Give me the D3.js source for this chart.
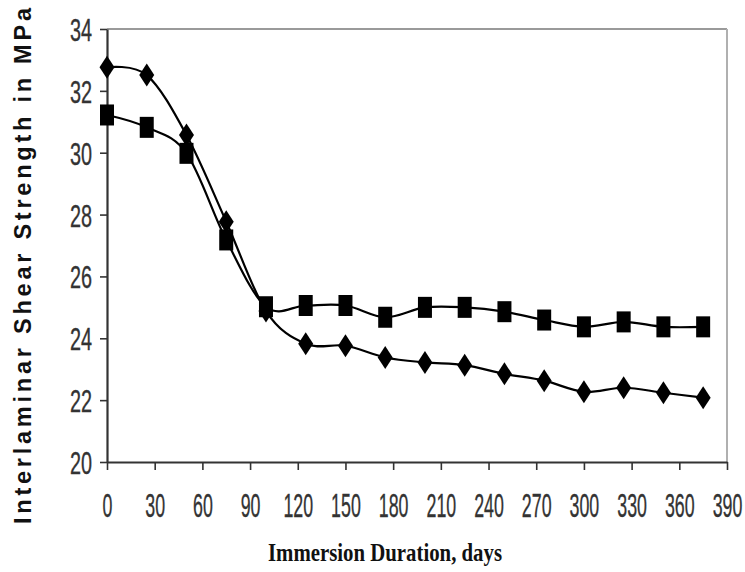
<!DOCTYPE html>
<html>
<head>
<meta charset="utf-8">
<script src="https://cdn.jsdelivr.net/npm/d3@7"></script>
<style>
html,body{margin:0;padding:0;background:#fff;}
svg{display:block;}
</style>
</head>
<body>
<script>
const days = [0,25,50,75,100,125,150,175,200,225,250,275,300,325,350,375];
const seriesDiamond = [32.76,32.51,30.57,27.77,24.88,23.82,23.76,23.38,23.22,23.13,22.85,22.63,22.27,22.40,22.24,22.08];
const seriesSquare  = [31.22,30.82,29.98,27.18,25.02,25.06,25.06,24.68,25.0,25.0,24.86,24.59,24.37,24.53,24.37,24.37];
const xTicks = [0,30,60,90,120,150,180,210,240,270,300,330,360,390];
const yTicks = [20,22,24,26,28,30,32,34];
const xTitle = "Immersion Duration, days";
const yTitle = "Interlaminar Shear Strength in MPa";

const W = 745, H = 572;
const L = 107, R = 727, T = 29, B = 462;

const svg = d3.select("body").append("svg").attr("width", W).attr("height", H);

const x = d3.scaleLinear().domain([0,390]).range([L,R]);
const y = d3.scaleLinear().domain([20,34]).range([B,T]);

// frame top/right
svg.append("line").attr("x1",L).attr("x2",R).attr("y1",T).attr("y2",T).attr("stroke","#9a9a9a").attr("stroke-width",2);
svg.append("line").attr("x1",R).attr("x2",R).attr("y1",T).attr("y2",B).attr("stroke","#b0b0b0").attr("stroke-width",2);

// axes
const xAxis = svg.append("g").attr("transform",`translate(0,${B})`)
  .call(d3.axisBottom(x).tickValues(xTicks).tickSize(8).tickSizeOuter(0).tickFormat(d3.format("d")));
const yAxis = svg.append("g").attr("transform",`translate(${L},0)`)
  .call(d3.axisLeft(y).tickValues(yTicks).tickSize(7).tickSizeOuter(0).tickFormat(d3.format("d")));

[xAxis,yAxis].forEach(g=>{
  g.select(".domain").attr("stroke","#333").attr("stroke-width",2.2);
  g.selectAll(".tick line").attr("stroke","#333").attr("stroke-width",1.6);
});

xAxis.selectAll(".tick text")
  .attr("font-family","Liberation Sans, Arial, sans-serif")
  .attr("font-size",33).attr("fill","#333")
  .attr("stroke","#333").attr("stroke-width",0.35)
  .attr("x",0).attr("y",0).attr("dy",null)
  .attr("transform","translate(0,55) scale(0.54,1)")
  .attr("text-anchor","middle");

yAxis.selectAll(".tick text")
  .attr("font-family","Liberation Sans, Arial, sans-serif")
  .attr("font-size",32).attr("fill","#333")
  .attr("stroke","#333").attr("stroke-width",0.35)
  .attr("x",0).attr("dy",null)
  .attr("transform","translate(-15,11.5) scale(0.62,1)")
  .attr("text-anchor","end");

// titles
svg.append("text")
  .attr("x", 385).attr("y", 561)
  .attr("text-anchor","middle")
  .attr("font-family","Liberation Serif, Times New Roman, serif")
  .attr("font-weight","bold").attr("font-size",25).attr("fill","#111")
  .attr("textLength",234).attr("lengthAdjust","spacingAndGlyphs")
  .text(xTitle);

svg.append("text")
  .attr("transform","translate(31,266) rotate(-90)")
  .attr("text-anchor","middle")
  .attr("font-family","Liberation Sans, Arial, sans-serif")
  .attr("font-weight","bold").attr("font-size",23.5).attr("fill","#111")
  .attr("textLength",516).attr("lengthAdjust","spacing")
  .text(yTitle);

// lines
const line = d3.line().x((d,i)=>x(days[i])).y(d=>y(d)).curve(d3.curveCatmullRom.alpha(0));
const plot = svg.append("g");
[seriesDiamond, seriesSquare].forEach(s=>{
  plot.append("path").datum(s).attr("d",line).attr("fill","none").attr("stroke","#000").attr("stroke-width",2.2);
});

// markers
plot.selectAll(".dia").data(seriesDiamond).join("path").attr("class","dia")
  .attr("transform",(d,i)=>`translate(${x(days[i])},${y(d)})`)
  .attr("d","M0,-11.5L7.5,0L0,11.5L-7.5,0Z").attr("fill","#000");

plot.selectAll(".sq").data(seriesSquare).join("rect").attr("class","sq")
  .attr("x",(d,i)=>x(days[i])-7).attr("y",d=>y(d)-10.5)
  .attr("width",14).attr("height",21).attr("fill","#000");
</script>
</body>
</html>
